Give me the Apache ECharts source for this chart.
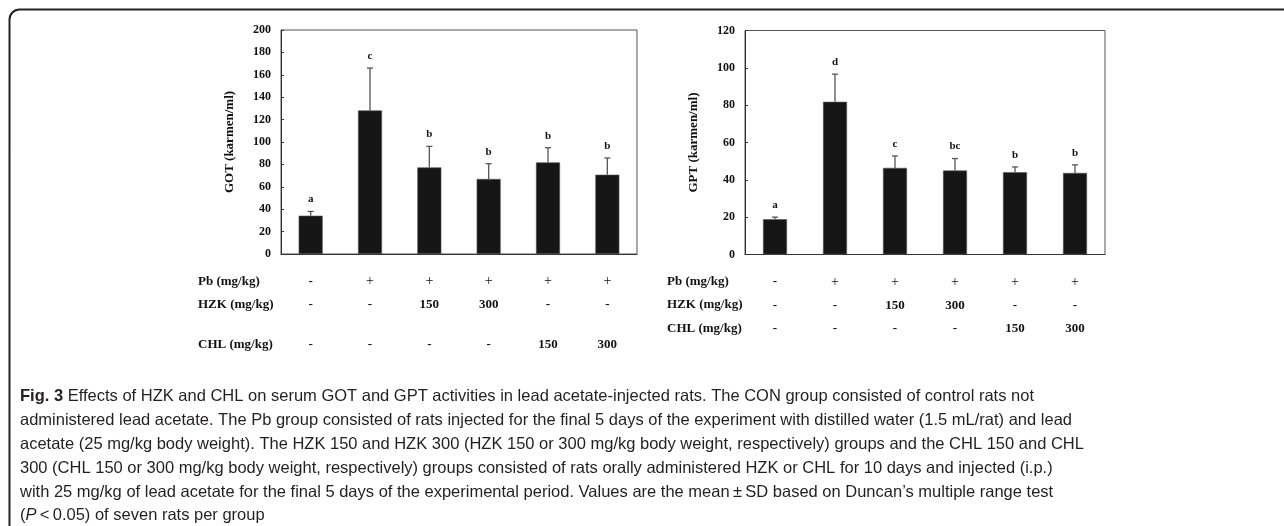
<!DOCTYPE html>
<html><head><meta charset="utf-8">
<script src="https://cdn.jsdelivr.net/npm/echarts@6/dist/echarts.min.js"></script>
<style>html,body{margin:0;padding:0;background:#fff}#c{width:1284px;height:526px}</style>
</head><body><div id="c"></div>
<script>
// ---- data ----
const groups = ['CON', 'Pb', 'HZK 150', 'HZK 300', 'CHL 150', 'CHL 300'];
const gotMean = [34.2, 128.2, 77.3, 67.0, 81.8, 70.8];
const gotSd = [3.8, 37.8, 18.8, 13.6, 13.1, 14.9];
const gotLetters = ['a', 'c', 'b', 'b', 'b', 'b'];
const gptMean = [18.9, 81.8, 46.4, 45.0, 44.1, 43.7];
const gptSd = [1.1, 14.8, 6.4, 6.4, 2.8, 4.3];
const gptLetters = ['a', 'd', 'c', 'bc', 'b', 'b'];
const pbRow = ['-', '+', '+', '+', '+', '+'];
const hzkRow = ['-', '-', '150', '300', '-', '-'];
const chlRow = ['-', '-', '-', '-', '150', '300'];
const rowNames = ['Pb (mg/kg)', 'HZK (mg/kg)', 'CHL (mg/kg)'];
const gotAxis = { min: 0, max: 200, interval: 20 };
const gptAxis = { min: 0, max: 120, interval: 20 };

const serif = '"Liberation Serif","Times New Roman",serif';
const sans = '"Liberation Sans", Arial, sans-serif';
const chart = echarts.init(document.getElementById('c'));

function errSeries(ax, mean, sd, letters) {
  return {
    type: 'custom', xAxisIndex: ax, yAxisIndex: ax, clip: false, z: 5,
    data: mean.map((m, i) => [i, m, m + sd[i]]),
    renderItem(params, api) {
      const i = api.value(0);
      const b = api.coord([i, api.value(1)]);
      const t = api.coord([i, api.value(2)]);
      const st = { stroke: '#555', lineWidth: 1.3 };
      return { type: 'group', children: [
        { type: 'line', shape: { x1: b[0], y1: b[1], x2: t[0], y2: t[1] }, style: st },
        { type: 'line', shape: { x1: t[0] - 3, y1: t[1], x2: t[0] + 3, y2: t[1] }, style: st },
        { type: 'text', x: t[0], y: t[1] - 12, style: { text: letters[params.dataIndex], align: 'center', verticalAlign: 'middle', font: 'bold 11px ' + serif, fill: '#111' } }
      ]};
    }
  };
}
function tableSeries(ax, offs) {
  const rows = [pbRow, hzkRow, chlRow];
  return {
    type: 'custom', xAxisIndex: ax, yAxisIndex: ax, clip: false, silent: true,
    data: groups.map((g, i) => [i, 0]),
    renderItem(params, api) {
      const i = api.value(0);
      const p = api.coord([i, 0]);
      return { type: 'group', children: rows.map((r, k) => ({
        type: 'text', x: p[0], y: p[1] + offs[k],
        style: { text: r[i], align: 'center', verticalAlign: 'middle',
          font: (r[i] === '+' ? 'normal 14px ' : 'bold 13px ') + serif, fill: '#111' }
      })) };
    }
  };
}
function xAx(gi) {
  return { type: 'category', gridIndex: gi, data: groups,
    axisLine: { lineStyle: { color: '#333', width: 1 } }, axisTick: { show: false }, axisLabel: { show: false } };
}
function yAx(gi, a, name) {
  return { type: 'value', gridIndex: gi, min: a.min, max: a.max, interval: a.interval,
    name: name, nameLocation: 'middle', nameGap: 45, nameRotate: 90,
    nameTextStyle: { fontFamily: serif, fontWeight: 'bold', fontSize: 13, color: '#111' },
    axisLine: { show: true, lineStyle: { color: '#333' } },
    axisTick: { show: true, inside: true, length: 3, lineStyle: { color: '#333' } },
    splitLine: { show: false },
    axisLabel: { fontFamily: serif, fontWeight: 'bold', fontSize: 12, color: '#111', margin: 10 } };
}

const caption = [
  '{b|Fig. 3} Effects of HZK and CHL on serum GOT and GPT activities in lead acetate-injected rats. The CON group consisted of control rats not',
  'administered lead acetate. The Pb group consisted of rats injected for the final 5 days of the experiment with distilled water (1.5 mL/rat) and lead',
  'acetate (25 mg/kg body weight). The HZK 150 and HZK 300 (HZK 150 or 300 mg/kg body weight, respectively) groups and the CHL 150 and CHL',
  '300 (CHL 150 or 300 mg/kg body weight, respectively) groups consisted of rats orally administered HZK or CHL for 10 days and injected (i.p.)',
  'with 25 mg/kg of lead acetate for the final 5 days of the experimental period. Values are the mean\u2009\u00b1\u2009SD based on Duncan\u2019s multiple range test',
  '({i|P}\u2009<\u20090.05) of seven rats per group'
].join('\n');

const rowLabel = (x, y, t) => ({ type: 'text', x: x, y: y, style: { text: t, font: 'bold 13px ' + serif, fill: '#111', verticalAlign: 'middle' } });

chart.setOption({
  animation: false,
  grid: [
    { left: 281, top: 30, width: 356, height: 224, show: true, borderColor: '#555', borderWidth: 1 },
    { left: 745, top: 30.5, width: 360, height: 224, show: true, borderColor: '#555', borderWidth: 1 }
  ],
  xAxis: [xAx(0), xAx(1)],
  yAxis: [yAx(0, gotAxis, 'GOT (karmen/ml)'), yAx(1, gptAxis, 'GPT (karmen/ml)')],
  series: [
    { type: 'bar', xAxisIndex: 0, yAxisIndex: 0, data: gotMean, barWidth: 24, itemStyle: { color: '#161616', borderColor: '#555', borderWidth: 0.6 } },
    { type: 'bar', xAxisIndex: 1, yAxisIndex: 1, data: gptMean, barWidth: 24, itemStyle: { color: '#161616', borderColor: '#555', borderWidth: 0.6 } },
    errSeries(0, gotMean, gotSd, gotLetters),
    errSeries(1, gptMean, gptSd, gptLetters),
    tableSeries(0, [27.5, 51, 91]),
    tableSeries(1, [27.5, 51, 74.5])
  ],
  graphic: [
    { type: 'rect', shape: { x: 9.5, y: 9.5, width: 1400, height: 700, r: 10 }, style: { fill: 'none', stroke: '#222', lineWidth: 2 }, silent: true },
    rowLabel(198, 281.5, rowNames[0]), rowLabel(198, 305, rowNames[1]), rowLabel(198, 345, rowNames[2]),
    rowLabel(667, 281.5, rowNames[0]), rowLabel(667, 305, rowNames[1]), rowLabel(667, 328.5, rowNames[2]),
    { type: 'text', x: 20, y: 385, style: { text: caption, font: '16.5px ' + sans, fill: '#231f20', lineHeight: 23.8, verticalAlign: 'top',
      rich: { b: { fontWeight: 'bold', fontSize: 16.5, fontFamily: sans, fill: '#231f20', lineHeight: 23.8 },
              i: { fontStyle: 'italic', fontSize: 16.5, fontFamily: sans, fill: '#231f20', lineHeight: 23.8 } } } }
  ]
});
</script></body></html>
